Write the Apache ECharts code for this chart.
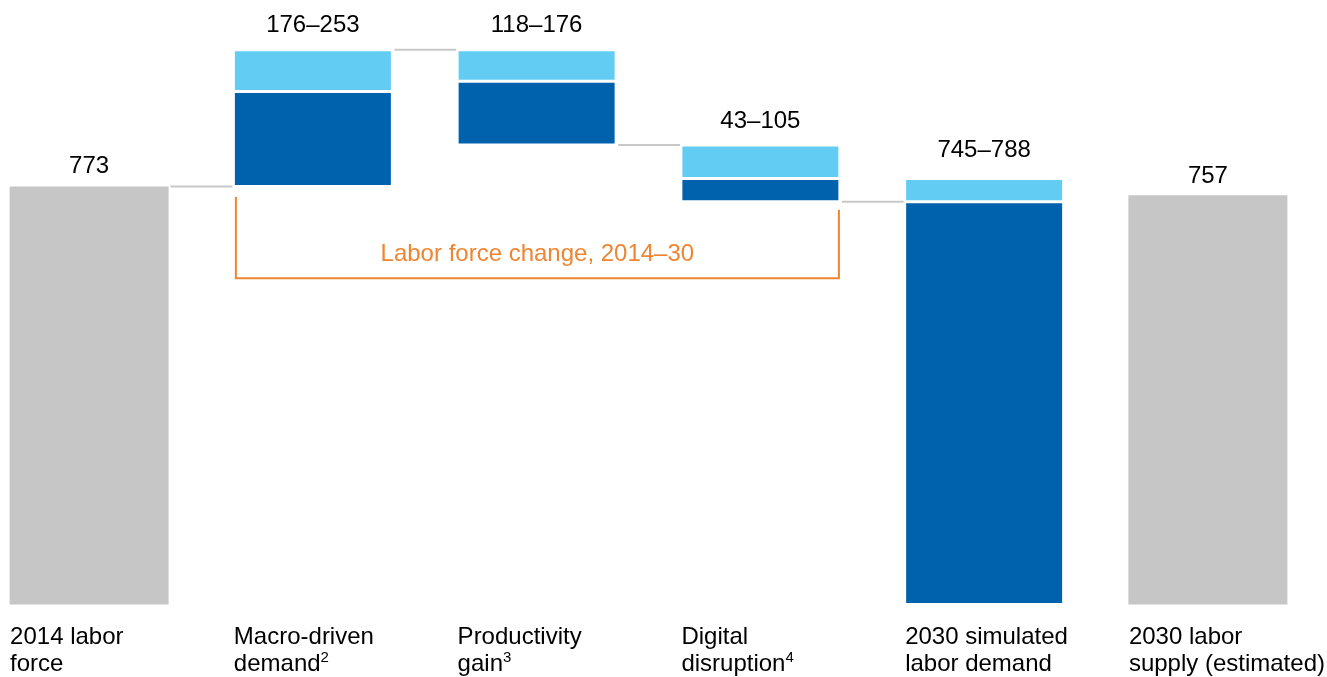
<!DOCTYPE html>
<html>
<head>
<meta charset="utf-8">
<title>Labor force change, 2014–30</title>
<script src="https://cdn.jsdelivr.net/npm/echarts@6/dist/echarts.min.js"></script>
<style>
  html, body { margin: 0; padding: 0; background: #ffffff; }
  #chart { width: 1327px; height: 677px; }
</style>
</head>
<body>
<div id="chart"></div>
<script>
// ---- data ----
const categories = ['2014 labor\nforce', 'Macro-driven\ndemand', 'Productivity\ngain', 'Digital\ndisruption', '2030 simulated\nlabor demand', '2030 labor\nsupply (estimated)'];
const footnotes = ['', '2', '3', '4', '', ''];
const lowValues = [773, 176, 118, 43, 745, 757];
const highValues = [773, 253, 176, 105, 788, 757];
const stepKinds = ['total', 'up', 'down', 'down', 'result', 'total'];
const bracketText = 'Labor force change, 2014–30';
const bracketRange = [1, 3];

// ---- styling ----
const FONT = '"Liberation Sans", Arial, Helvetica, sans-serif';
const GRAY = '#C6C6C6';
const DARK = '#0061AD';
const LIGHT = '#63CCF3';
const ORANGE = '#EF8532';
const CONNECTOR = '#C8C8C8';
const BAR_W = 159;
const labelGap = [8, 12, 12, 12, 16, 7];

// ---- waterfall stacking ----
const baseValues = [], grayValues = [], darkValues = [], lightValues = [], levels = [];
let running = 0;
stepKinds.forEach((kind, i) => {
  const lo = lowValues[i], hi = highValues[i];
  if (kind === 'total') {
    baseValues.push(0); grayValues.push(lo); darkValues.push('-'); lightValues.push('-');
    running = lo;
  } else if (kind === 'up') {
    baseValues.push(running); grayValues.push('-'); darkValues.push(lo); lightValues.push(hi - lo);
    running += hi;
  } else if (kind === 'down') {
    running -= hi;
    baseValues.push(running); grayValues.push('-'); darkValues.push(lo); lightValues.push(hi - lo);
  } else {
    baseValues.push(0); grayValues.push('-'); darkValues.push(lo); lightValues.push(hi - lo);
    running = lo;
  }
  levels.push(running);
});

// step connectors between neighbouring bars
const connectorData = [];
for (let i = 0; i < categories.length - 1; i++) {
  if (stepKinds[i + 1] !== 'total') connectorData.push([i, levels[i]]);
}

const valueLabel = (i) => ({
  show: true, position: 'top', distance: labelGap[i],
  fontFamily: FONT, fontSize: 24, color: '#000'
});

const grayData = grayValues.map((v, i) => v === '-' ? { value: '-' } : {
  value: v, label: Object.assign(valueLabel(i), { formatter: String(lowValues[i]) })
});
const lightData = lightValues.map((v, i) => v === '-' ? { value: '-' } : {
  value: v, label: Object.assign(valueLabel(i), { formatter: lowValues[i] + '–' + highValues[i] })
});

const barCommon = {
  type: 'bar', stack: 'wf', barWidth: BAR_W, silent: true, clip: false,
  itemStyle: { borderColor: '#ffffff', borderWidth: 1.5 }
};

const chart = echarts.init(document.getElementById('chart'), null, { renderer: 'canvas' });

// category ticks sit on the grid edges, so the first and last bars overhang the grid
chart.setOption({
  animation: false,
  backgroundColor: '#ffffff',
  grid: { left: 89.1, right: 119.1, top: 9.8, bottom: 72.5, containLabel: false },
  xAxis: { type: 'category', data: categories, show: false, boundaryGap: false },
  yAxis: { type: 'value', min: 0, max: 1100, show: false, splitLine: { show: false } },
  series: [
    Object.assign({}, barCommon, {
      name: 'base', data: baseValues,
      itemStyle: { color: 'transparent', borderWidth: 0 }
    }),
    Object.assign({}, barCommon, {
      name: 'total', data: grayData,
      itemStyle: { color: GRAY, borderWidth: 0 }
    }),
    Object.assign({}, barCommon, {
      name: 'low', data: darkValues,
      itemStyle: { color: DARK, borderColor: '#ffffff', borderWidth: 1.5 }
    }),
    Object.assign({}, barCommon, {
      name: 'high', data: lightData,
      itemStyle: { color: LIGHT, borderColor: '#ffffff', borderWidth: 1.5 }
    }),
    {
      // gray step connectors
      type: 'custom', silent: true, clip: false,
      data: connectorData,
      renderItem(params, api) {
        const i = api.value(0), v = api.value(1);
        const p = api.coord([i, v]);
        const q = api.coord([i + 1, v]);
        return {
          type: 'line',
          shape: { x1: p[0] + BAR_W / 2 + 2, y1: p[1], x2: q[0] - BAR_W / 2 - 1, y2: q[1] },
          style: { stroke: CONNECTOR, lineWidth: 2 }
        };
      },
      z: 1
    },
    {
      // orange bracket spanning the change steps
      type: 'custom', silent: true, clip: false,
      data: [[bracketRange[0], bracketRange[1]]],
      renderItem(params, api) {
        const a = api.value(0), b = api.value(1);
        const pl = api.coord([a, levels[a - 1]]);
        const pr = api.coord([b, levels[b]]);
        const xL = pl[0] - BAR_W / 2 + 2.5;
        const xR = pr[0] + BAR_W / 2 - 1;
        const yL = pl[1] + 10.5;
        const yR = pr[1] + 8;
        const yB = pr[1] + 76.5;
        return {
          type: 'group',
          children: [
            {
              type: 'polyline',
              shape: { points: [[xL, yL], [xL, yB], [xR, yB], [xR, yR]] },
              style: { stroke: ORANGE, lineWidth: 2, fill: null }
            },
            {
              type: 'text',
              x: (xL + xR) / 2, y: yB - 24,
              style: {
                text: bracketText, fill: ORANGE,
                fontFamily: FONT, fontSize: 24,
                align: 'center', verticalAlign: 'middle'
              }
            }
          ]
        };
      },
      z: 3
    },
    {
      // category labels, left-aligned under each bar
      type: 'custom', silent: true, clip: false,
      data: categories.map((c, i) => [i, 0]),
      renderItem(params, api) {
        const i = api.value(0);
        const p = api.coord([i, 0]);
        const lines = categories[i].split('\n');
        const note = footnotes[i];
        const text = lines.map((ln, k) =>
          '{t|' + ln + '}' + (k === lines.length - 1 && note ? '{s|' + note + '}' : '')
        ).join('\n');
        return {
          type: 'text',
          x: p[0] - BAR_W / 2 + 0.5, y: p[1] + 19,
          style: {
            text: text,
            fill: '#000', fontFamily: FONT, fontSize: 24, lineHeight: 27,
            align: 'left', verticalAlign: 'top',
            rich: {
              t: { fontFamily: FONT, fontSize: 24, lineHeight: 27, fill: '#000' },
              s: { fontFamily: FONT, fontSize: 15, lineHeight: 20, verticalAlign: 'top', fill: '#000' }
            }
          }
        };
      },
      z: 3
    }
  ]
});
</script>
</body>
</html>
